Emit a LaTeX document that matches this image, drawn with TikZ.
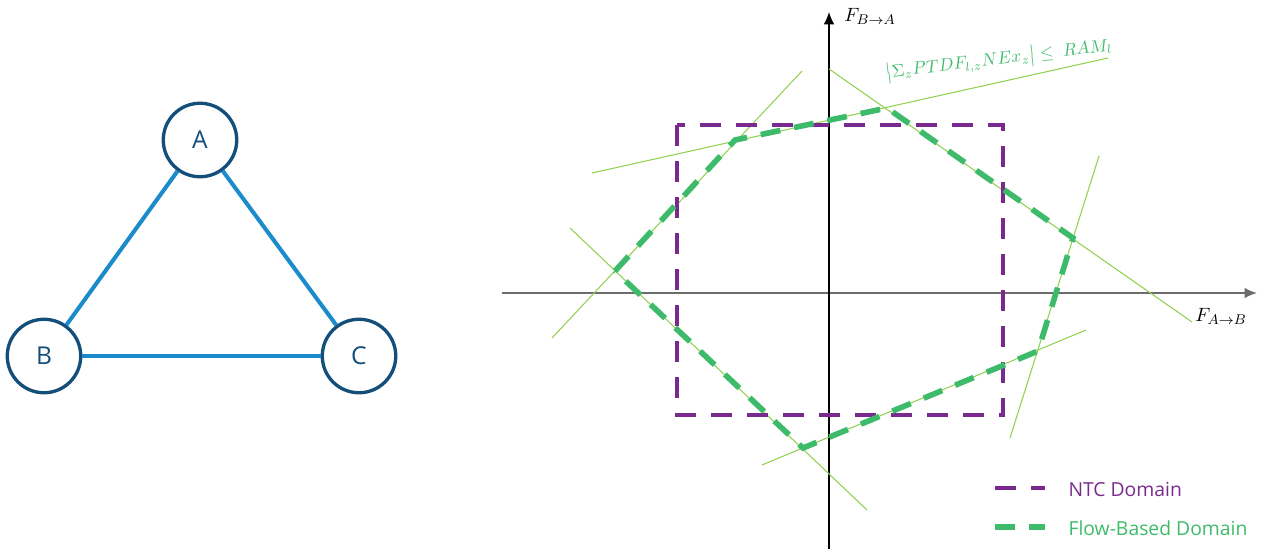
\documentclass[tikz,border=0pt]{standalone}
\usepackage{amsmath}
\usepackage{fontspec}
\setmainfont{Open Sans}
\usetikzlibrary{arrows.meta}
\definecolor{nodeblue}{RGB}{20,78,122}
\definecolor{linkblue}{RGB}{27,139,203}
\definecolor{ntcpurple}{RGB}{122,42,142}
\definecolor{fbgreen}{RGB}{62,187,106}
\definecolor{limitgreen}{RGB}{146,208,80}
\tikzset{
    zone/.style={draw=nodeblue, line width=1.9pt, circle, minimum size=1.47cm, inner sep=0pt,
        text=nodeblue, font=\fontsize{14}{16}\selectfont},
    link/.style={draw=linkblue, line width=2.3pt},
    axis/.style={->, >={Latex[length=7pt,width=6pt]}},
    ntc/.style={draw=ntcpurple, line width=2.8pt, dash pattern=on 0.42cm off 0.3cm},
    flowbased/.style={draw=fbgreen, line width=3.2pt, dash pattern=on 0.4cm off 0.28cm},
    limit/.style={draw=limitgreen, line width=0.6pt},
    % legend text, placed right of its dash sample
    legendtext/.style={anchor=west, font=\fontsize{11}{13}\selectfont},
}

\begin{document}
\begin{tikzpicture}[x=0.02cm, y=-0.02cm, >=Stealth, thick]
    \useasboundingbox (0,0) rectangle (1274,551);

    % three-zone network
    \node[zone] (A) at (200,140) {A};
    \node[zone] (B) at (44,356) {B};
    \node[zone] (C) at (359,356) {C};
    \draw[link] (A) -- (B);
    \draw[link] (A) -- (C);
    \draw[link] (B) -- (C);

    % axes
    \coordinate (xfrom) at (502,293);
    \coordinate (xto) at (1257,293);
    \coordinate (yfrom) at (829,549);
    \coordinate (yto) at (829,12);
    \draw[axis, gray!85!black, line width=1pt] (xfrom) -- (xto);
    \draw[axis, black, line width=0.7pt] (yfrom) -- (yto);
    \node[font=\fontsize{11}{13}\selectfont] (fba) at (870,16) {$F_{B\to A}$};
    \node[font=\fontsize{11}{13}\selectfont] (fab) at (1221,316) {$F_{A\to B}$};

    % line limits
    \draw[limit] (592,173) -- (1108,58);
    \draw[limit] (552,338) -- (802,71);
    \draw[limit] (829,69) -- (1192,322);
    \draw[limit] (1099,156) -- (1010,438);
    \draw[limit] (762,465) -- (1086,330);
    \draw[limit] (570,228) -- (867,510);
    \node[rotate=7, text=fbgreen, inner sep=1pt] (ramlabel) at (999,60)
        {$\bigl|\Sigma_z PTDF_{l,z} NEx_z\bigr| \leq\ RAM_l$};

    % NTC domain
    \draw[ntc] (677,125) rectangle (1003,415);

    % flow-based domain
    \coordinate (p1) at (615,271);
    \coordinate (p2) at (735,140);
    \coordinate (p3) at (887,108);
    \coordinate (p4) at (1073,238);
    \coordinate (p5) at (1038,351);
    \coordinate (p6) at (803,448);
    \draw[flowbased] (p1) -- (p2) -- (p3) -- (p4) -- (p5) -- (p6) -- cycle;

    % legend
    \draw[ntc] (995,488) -- (1045,488);
    \node[legendtext, text=ntcpurple] (ntclabel) at (1062,489) {NTC Domain};
    \draw[flowbased] (995,527) -- (1045,527);
    \node[legendtext, text=fbgreen] (fblabel) at (1062,528) {Flow-Based Domain};
\end{tikzpicture}
\end{document}
